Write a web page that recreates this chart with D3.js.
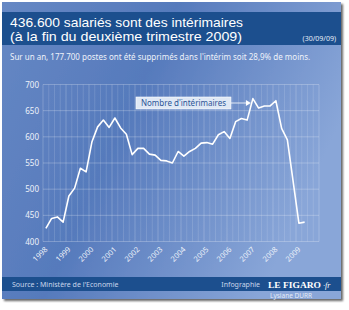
<!DOCTYPE html>
<html lang="fr">
  <head>
    <meta charset="utf-8">
    <title>Intérimaires</title>
    <script src="https://d3js.org/d3.v7.min.js"></script>
    <style>
      body { margin: 0; background: #fff; }
      text { font-family: "Noto Sans", "Open Sans", sans-serif; }
    </style>
  </head>
  <body>
    <div id="chart"></div>
    <script>
      // quarterly values, thousands of temp workers, 1998 Q1 .. 2009 Q2
      let values = [425, 444, 447, 437, 487, 502, 540, 533, 590, 619, 632, 618,
                    636, 617, 605, 566, 578, 578, 567, 565, 555, 554, 550, 572,
                    563, 572, 578, 588, 589, 586, 604, 610, 597, 629, 635, 632,
                    673, 655, 659, 659, 669, 616, 594, 515, 435, 437];
      let years = [1998, 1999, 2000, 2001, 2002, 2003, 2004, 2005, 2006, 2007, 2008, 2009];
      let yTicks = [400, 450, 500, 550, 600, 650, 700];

      let W = 349, H = 310;
      let svg = d3.select('#chart').append('svg')
        .attr('width', W).attr('height', H);

      let defs = svg.append('defs');
      let grad = defs.append('linearGradient').attr('id', 'bg')
        .attr('x1', '0').attr('y1', '0').attr('x2', '1').attr('y2', '0.4');
      grad.append('stop').attr('offset', '0').attr('stop-color', '#6688c4');
      grad.append('stop').attr('offset', '0.45').attr('stop-color', '#567abc');
      grad.append('stop').attr('offset', '1').attr('stop-color', '#89a6d8');
      let sh = defs.append('filter').attr('id', 'shadow')
        .attr('x', '-5%').attr('y', '-5%').attr('width', '110%').attr('height', '110%');
      sh.append('feDropShadow').attr('dx', 2).attr('dy', 2).attr('stdDeviation', 1.2)
        .attr('flood-color', '#000').attr('flood-opacity', 0.6);

      // panel
      svg.append('rect').attr('x', 2).attr('y', 2).attr('width', 339).attr('height', 297)
        .attr('fill', 'url(#bg)').attr('filter', 'url(#shadow)');

      // title band
      svg.append('rect').attr('x', 2).attr('y', 12).attr('width', 339).attr('height', 33)
        .attr('fill', '#1c4f8e');
      let title = svg.append('g').style('font-family', '"Liberation Sans", Arial, sans-serif')
        .attr('fill', '#fff').attr('font-size', 12.2);
      title.append('text').attr('x', 10).attr('y', 26.5)
        .style('font-family', 'inherit')
        .attr('textLength', 233).attr('lengthAdjust', 'spacingAndGlyphs')
        .text('436.600 salariés sont des intérimaires');
      title.append('text').attr('x', 10).attr('y', 41)
        .style('font-family', 'inherit')
        .attr('textLength', 232).attr('lengthAdjust', 'spacingAndGlyphs')
        .text('(à la fin du deuxième trimestre 2009)');
      svg.append('text').attr('x', 336).attr('y', 41).attr('text-anchor', 'end')
        .attr('fill', '#e6edf7').attr('font-size', 7)
        .text('(30/09/09)');

      svg.append('text').attr('x', 10).attr('y', 60)
        .attr('fill', '#eef2fa').attr('font-size', 8)
        .text("Sur un an, 177.700 postes ont été supprimés dans l'intérim soit 28,9% de moins.");

      // plot
      let x = d3.scaleLinear().domain([1998, 2010]).range([43, 319]);
      let y = d3.scaleLinear().domain([400, 700]).range([241.5, 84.5]);
      let t = (d, i) => 1998 + (i + 0.5) / 4;

      let grid = svg.append('g');
      grid.selectAll('line.v')
        .data(d3.range(0, 49))
        .join('line')
        .attr('x1', q => x(1998 + q / 4)).attr('x2', q => x(1998 + q / 4))
        .attr('y1', y(700)).attr('y2', y(400))
        .attr('stroke', '#fff').attr('stroke-width', 0.6)
        .attr('stroke-opacity', q => q % 4 === 0 ? 0.35 : 0.22);
      grid.selectAll('line.h')
        .data(yTicks)
        .join('line')
        .attr('x1', x(1998)).attr('x2', x(2010))
        .attr('y1', d => y(d)).attr('y2', d => y(d))
        .attr('stroke', '#fff').attr('stroke-width', 0.7).attr('stroke-opacity', 0.35);

      svg.append('g').selectAll('text')
        .data(yTicks)
        .join('text')
        .attr('x', 39).attr('y', d => y(d) + 3)
        .attr('text-anchor', 'end')
        .attr('fill', '#eef2fa').attr('font-size', 8)
        .text(d => d);

      svg.append('g').selectAll('text')
        .data(years)
        .join('text')
        .attr('transform', d => 'translate(' + (x(d) + 5) + ',250) rotate(-45)')
        .attr('text-anchor', 'end')
        .attr('fill', '#eef2fa').attr('font-size', 7.5)
        .text(d => d);

      let line = d3.line().x((d, i) => x(t(d, i))).y(d => y(d));
      svg.append('path').datum(values)
        .attr('d', line)
        .attr('fill', 'none').attr('stroke', '#fff').attr('stroke-width', 1.6)
        .attr('stroke-linejoin', 'round');

      // annotation
      let peak = values.indexOf(d3.max(values));
      let px = x(t(0, peak));
      svg.append('rect').attr('x', 136).attr('y', 97).attr('width', 95).attr('height', 12)
        .attr('fill', '#dfe8f5').attr('stroke', '#fff').attr('stroke-width', 0.6);
      svg.append('text').attr('x', 183.5).attr('y', 106).attr('text-anchor', 'middle')
        .attr('fill', '#2c5596').attr('font-size', 8)
        .text("Nombre d'intérimaires");
      svg.append('line').attr('x1', 231).attr('y1', 103).attr('x2', px - 6).attr('y2', 103)
        .attr('stroke', '#fff').attr('stroke-width', 0.8);
      svg.append('path')
        .attr('d', 'M' + (px - 2) + ',103 L' + (px - 7) + ',100 L' + (px - 7) + ',106 Z')
        .attr('fill', '#fff');

      // footer
      svg.append('rect').attr('x', 2).attr('y', 277).attr('width', 339).attr('height', 14)
        .attr('fill', '#1c4f8e');
      svg.append('text').attr('x', 12).attr('y', 287)
        .attr('fill', '#c9d6ec').attr('font-size', 7)
        .text("Source : Ministère de l'Economie");
      svg.append('text').attr('x', 260).attr('y', 287).attr('text-anchor', 'end')
        .attr('fill', '#c9d6ec').attr('font-size', 7)
        .text('Infographie');
      svg.append('text').attr('x', 268).attr('y', 287.5)
        .attr('fill', '#fff').attr('font-size', 8).attr('font-weight', 'bold')
        .attr('textLength', 53).attr('lengthAdjust', 'spacingAndGlyphs')
        .style('font-family', '"Liberation Serif", serif')
        .text('LE FIGARO');
      svg.append('text').attr('x', 323).attr('y', 287.5)
        .attr('fill', '#fff').attr('font-size', 8).attr('font-style', 'italic')
        .style('font-family', '"Liberation Serif", serif')
        .text('·fr');
      svg.append('text').attr('x', 270).attr('y', 297.5)
        .attr('fill', '#e4ebf6').attr('font-size', 6.5)
        .text('Lysiane DURR');
    </script>
  </body>
</html>
